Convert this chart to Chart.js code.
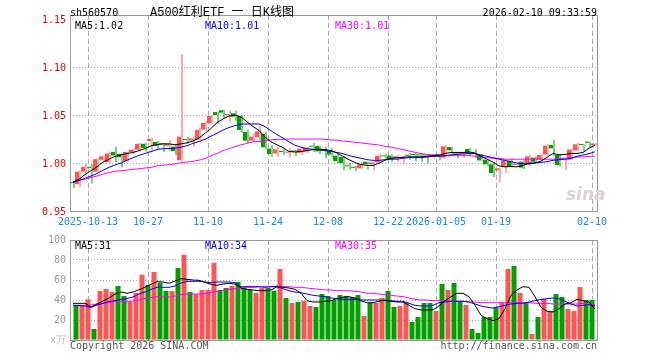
<!DOCTYPE html>
<html>
<head>
<meta charset="utf-8">
<title>A500红利ETF 日K线图</title>
<script src="https://cdn.jsdelivr.net/npm/chart.js@4.4.1/dist/chart.umd.min.js"></script>
<style>
  body { margin: 0; background: #fff; }
  #wrap { position: relative; width: 660px; height: 360px; overflow: hidden; font: 10px "DejaVu Sans Mono", monospace; }
  canvas { position: absolute; left: 0; }
  .txt { position: absolute; white-space: nowrap; line-height: 12px; z-index: 2; }
</style>
</head>
<body>
<div id="wrap">
  <canvas id="kline" width="660" height="230" style="top:0"></canvas>
  <canvas id="volume" width="660" height="130" style="top:230px"></canvas>

  <div class="txt" style="left:70px;top:7px">sh560570</div>
  <div class="txt" style="left:150px;top:6px;font-size:12px;line-height:14px;font-family:'Liberation Mono','Noto Sans CJK SC',monospace">A500红利ETF 一 日K线图</div>
  <div class="txt" style="right:63px;top:7px">2026-02-10 09:33:59</div>

  <div class="txt" id="k5" style="left:75px;top:20px;color:#000"></div>
  <div class="txt" id="k10" style="left:205px;top:20px;color:#0000ff"></div>
  <div class="txt" id="k30" style="left:335px;top:20px;color:#ff00ff"></div>

  <div class="txt" id="v5" style="left:75px;top:240px;color:#000"></div>
  <div class="txt" id="v10" style="left:205px;top:240px;color:#0000ff"></div>
  <div class="txt" id="v30" style="left:335px;top:240px;color:#ff00ff"></div>

  <div class="txt" style="left:566px;top:184px;font:italic bold 17px 'DejaVu Sans',sans-serif;line-height:20px;color:#ddd2d2">sina</div>

  <div class="txt" style="left:70px;top:340px;color:#555">Copyright 2026 SINA.COM</div>
  <div class="txt" style="right:63px;top:340px;color:#555">http://finance.sina.com.cn</div>
</div>

<script>
  // trading days shown on the chart
  const dates = [
    '2025-09-30','2025-10-09','2025-10-10','2025-10-13','2025-10-14','2025-10-15','2025-10-16','2025-10-17',
    '2025-10-20','2025-10-21','2025-10-22','2025-10-23','2025-10-24','2025-10-27','2025-10-28','2025-10-29',
    '2025-10-30','2025-10-31','2025-11-03','2025-11-04','2025-11-05','2025-11-06','2025-11-07','2025-11-10',
    '2025-11-11','2025-11-12','2025-11-13','2025-11-14','2025-11-17','2025-11-18','2025-11-19','2025-11-20',
    '2025-11-21','2025-11-24','2025-11-25','2025-11-26','2025-11-27','2025-11-28','2025-12-01','2025-12-02',
    '2025-12-03','2025-12-04','2025-12-05','2025-12-08','2025-12-09','2025-12-10','2025-12-11','2025-12-12',
    '2025-12-15','2025-12-16','2025-12-17','2025-12-18','2025-12-19','2025-12-22','2025-12-23','2025-12-24',
    '2025-12-25','2025-12-26','2025-12-29','2025-12-30','2025-12-31','2026-01-05','2026-01-06','2026-01-07',
    '2026-01-08','2026-01-09','2026-01-12','2026-01-13','2026-01-14','2026-01-15','2026-01-16','2026-01-19',
    '2026-01-20','2026-01-21','2026-01-22','2026-01-23','2026-01-26','2026-01-27','2026-01-28','2026-01-29',
    '2026-01-30','2026-02-02','2026-02-03','2026-02-04','2026-02-05','2026-02-06','2026-02-09','2026-02-10'
  ];

  const tickDates = ['2025-10-13','2025-10-27','2025-11-10','2025-11-24','2025-12-08','2025-12-22','2026-01-05','2026-01-19','2026-02-10'];
  const tickTexts = ['2025-10-13','10-27','11-10','11-24','12-08','12-22','2026-01-05','01-19','02-10'];
  const priceTicks = [0.95, 1.00, 1.05, 1.10, 1.15];
  const volTicks = [0, 20, 40, 60, 80, 100];

  const open = [
    0.981,0.979,0.992,0.997,0.992,1.0045,1.002,1.0125,1.0104,1.003,
    1.0125,1.015,1.021,1.024,1.023,1.021,1.019,1.018,1.004,1.0255,
    1.0245,1.0255,1.036,1.0427,1.054,1.056,1.051,1.0528,1.050,1.0333,
    1.0243,1.028,1.0313,1.016,1.011,1.013,1.0118,1.0135,1.0118,1.0132,
    1.0185,1.0188,1.014,1.0139,1.0087,1.0073,0.998,0.9965,0.9955,1.0024,
    0.9997,1.0017,1.008,1.0087,1.006,1.0062,1.0088,1.0096,1.0095,1.0092,
    1.0078,1.0096,1.0066,1.0177,1.0105,1.0105,1.0156,1.0108,1.0094,1.0045,
    0.9997,0.9934,0.9976,1.0031,0.999,1.0024,0.999,1.0066,1.0045,1.010,
    1.0198,1.0094,1.004,1.0045,1.0142,1.020,1.0233,1.0198
  ];
  const high = [
    0.982,0.993,1.000,1.000,1.006,1.009,1.013,1.018,1.011,1.013,
    1.016,1.022,1.022,1.027,1.024,1.0215,1.025,1.021,1.114,1.028,
    1.029,1.038,1.0444,1.051,1.0548,1.0565,1.056,1.0555,1.0507,1.036,
    1.032,1.0396,1.0333,1.0194,1.0174,1.0153,1.0167,1.0146,1.0174,1.018,
    1.022,1.019,1.018,1.0167,1.0104,1.008,1.001,0.998,1.0024,1.0024,
    1.0024,1.011,1.0108,1.010,1.0094,1.008,1.0115,1.0115,1.011,1.0094,
    1.0094,1.010,1.0198,1.0177,1.0128,1.0128,1.0163,1.0156,1.0104,1.0045,
    1.002,0.9958,1.0045,1.0052,1.0024,1.0038,1.0094,1.008,1.0108,1.0205,
    1.0253,1.0108,1.0055,1.0156,1.022,1.0205,1.0233,1.022
  ];
  const low = [
    0.975,0.976,0.988,0.980,0.991,1.003,1.001,1.002,0.9965,1.002,
    1.011,1.013,1.013,1.013,1.0156,1.0125,1.0135,1.009,1.003,1.021,
    1.018,1.025,1.035,1.042,1.0417,1.048,1.0437,1.045,1.0326,1.0215,
    1.023,1.022,1.0153,1.0076,1.007,1.0097,1.007,1.0083,1.0097,1.0118,
    1.0125,1.0104,1.006,1.0076,1.001,0.9934,0.994,0.9927,0.995,0.994,
    0.9934,1.001,1.005,1.0024,1.0024,1.001,1.0045,1.003,1.0024,1.001,
    1.0066,1.0038,1.006,1.010,1.006,1.0066,1.008,1.006,1.003,0.998,
    0.9865,0.981,0.990,0.9962,0.998,0.9948,0.998,1.001,1.003,1.0087,
    1.008,0.9976,0.994,1.0038,1.0135,1.0128,1.0177,1.0191
  ];
  const close = [
    0.980,0.992,0.997,0.996,1.005,1.008,1.011,1.009,1.007,1.0125,
    1.015,1.021,1.0167,1.026,1.019,1.0205,1.021,1.0135,1.0285,1.025,
    1.0265,1.0355,1.0427,1.050,1.051,1.0535,1.0515,1.0493,1.0354,1.0243,
    1.0285,1.034,1.0174,1.0104,1.0153,1.0125,1.0125,1.013,1.016,1.0167,
    1.018,1.0132,1.0135,1.0097,1.0031,1.001,0.9976,0.996,0.9997,0.9997,
    1.0017,1.0087,1.0079,1.0052,1.008,1.0066,1.0087,1.0094,1.009,1.009,
    1.0082,1.0094,1.0184,1.0142,1.010,1.0108,1.0108,1.0104,1.0038,0.9997,
    0.9906,0.9955,1.0038,0.9976,1.0003,0.9962,1.008,1.0024,1.0094,1.019,
    1.0163,0.999,1.0052,1.015,1.0205,1.0198,1.022,1.0212
  ];

  const ma5 = [
    0.981,0.984,0.989,0.993,0.997,1.002,1.005,1.008,1.0095,1.011,
    1.012,1.014,1.016,1.019,1.020,1.021,1.021,1.020,1.021,1.022,
    1.024,1.027,1.032,1.037,1.043,1.047,1.050,1.051,1.049,1.044,
    1.039,1.035,1.028,1.023,1.020,1.017,1.013,1.0125,1.013,1.014,
    1.015,1.0155,1.015,1.014,1.0115,1.008,1.0045,1.0015,0.9995,0.9985,
    0.9985,1.001,1.004,1.006,1.0065,1.007,1.0075,1.0075,1.0075,1.008,
    1.009,1.009,1.011,1.012,1.012,1.012,1.0125,1.0115,1.008,1.005,
    1.002,0.998,0.997,0.9975,0.997,0.9985,1.001,1.001,1.003,1.007,
    1.011,1.0095,1.010,1.011,1.011,1.012,1.0165,1.0195
  ];
  const ma10 = [
    0.981,0.983,0.985,0.9875,0.990,0.9935,0.9965,0.999,1.001,1.004,
    1.0065,1.009,1.011,1.013,1.015,1.016,1.016,1.0165,1.0175,1.019,
    1.0215,1.0235,1.0257,1.029,1.032,1.0354,1.038,1.040,1.0415,1.0417,
    1.0417,1.0417,1.039,1.0347,1.0306,1.027,1.023,1.0195,1.0175,1.016,
    1.0153,1.0146,1.0139,1.0132,1.012,1.0108,1.0087,1.0073,1.006,1.0045,
    1.0038,1.0038,1.0045,1.005,1.005,1.006,1.0066,1.0066,1.0066,1.0073,
    1.008,1.008,1.0087,1.0095,1.010,1.0105,1.0108,1.0108,1.0094,1.008,
    1.0066,1.005,1.0038,1.0024,1.001,1.0003,1.0003,1.001,1.0017,1.0024,
    1.0038,1.0045,1.005,1.006,1.008,1.0094,1.0108,1.0128
  ];
  const ma30 = [
    0.981,0.983,0.984,0.986,0.9875,0.9895,0.991,0.9924,0.993,0.9937,
    0.9944,0.995,0.9958,0.9965,0.998,0.9986,0.9993,1.000,1.0014,1.002,
    1.0028,1.004,1.0056,1.0087,1.011,1.0139,1.016,1.018,1.020,1.0215,
    1.023,1.0236,1.0243,1.025,1.0257,1.0257,1.026,1.026,1.026,1.026,
    1.026,1.026,1.0257,1.025,1.0247,1.024,1.0233,1.0226,1.022,1.0212,
    1.0205,1.0198,1.0184,1.0177,1.0163,1.015,1.0135,1.0122,1.0108,1.010,
    1.0094,1.0094,1.0087,1.0087,1.0087,1.0087,1.0087,1.008,1.0075,1.0066,
    1.006,1.006,1.005,1.005,1.005,1.005,1.005,1.005,1.005,1.005,
    1.005,1.006,1.006,1.0066,1.0073,1.0073,1.008,1.008
  ];

  // volume, unit: 万手
  const volume = [
    34.7,34.7,40.7,11,49,51,48,54,44,38,
    47,65.3,55,68,57.3,49,49,72,85.3,48,
    45.7,50,50,77.3,50,52,54,58,52,50,
    47,52,52,49.3,71,42,37,38,39,34,
    33,46,44,40,45,44,43,45,24,37,
    37,42,49,33,34,38,18,23,37,37,
    29,56,50,57,38,35,11,7,23,23,
    33,38,71,74,47,38,6,23,41,29,
    46,43,31,29,53,40,40,1
  ];
  const volMa5 = [
    36.7,36.7,36.7,33,36,39,42,46,48,46.7,
    48,50.3,52.7,55.7,58.3,58,56.7,59,61.3,60.7,
    60,59.7,57.7,55.7,54.7,56,56.7,56,52,50.7,
    50,49.3,49.3,50,53.3,52.7,52,50.7,46.7,39.3,
    38,38,38.7,39.3,41.3,42.7,43.3,42,39.3,37.3,
    37.3,38.7,40,38.7,38,38,34.7,31.3,30,30,
    30,34,39.3,43.3,46.7,46.7,43.3,34.7,24.7,21.3,
    19.3,21.3,31.3,44.7,50,53.3,52.7,43.3,32.7,28.7,
    28,31.3,36,37.3,40.7,39.3,38,31
  ];
  const volMa10 = [
    34.7,34.5,34,32.7,35,36.7,38.5,39.3,40.7,41.5,
    43,46,48,50.5,52.7,52.7,52.7,54,57,58.7,
    58.7,58.7,58,57.3,58,58,58,57.3,53.3,53.3,
    53.3,53.3,52.7,53.3,53.3,51.3,49.3,48,47.3,46,
    44.7,44,43.3,42,41.3,40.7,40.7,40.7,40,40,
    40,40,39.3,39.3,38.7,38.7,36.7,34.7,34,34,
    34.7,37.3,38,38.7,38.7,38.7,38,36,34,32.7,
    32,33.3,34.7,36,36.7,36.7,38,39.3,40.7,41.3,
    42,41.3,38.7,36,34,34.7,35.3,34
  ];
  const volMa30 = [
    34.7,34.7,34.7,35,36,36.7,37.5,38.3,38.3,38.3,
    39,40,41.7,42.5,43.3,43,43,44,45.5,46,
    46,46,46.5,47.5,48.7,49.3,50.7,51.3,52,52.7,
    52.7,53.3,53.3,53.3,54,53.3,53.3,52.7,52.7,52,
    51.3,50.7,50,50,49.3,49.3,49.3,48.7,48,46.7,
    46.7,46,45.3,44.7,44,43.3,42,40.7,40,40,
    39.3,39.3,39.3,38.7,38.7,38.7,38,38,37.3,37.3,
    37.3,37.3,37.3,37.3,37.3,37.3,37.3,36.7,36.7,36.7,
    36,36,36,36,36,36.7,36,35.3
  ];

  const RED = '#ff5555';
  const GREEN = '#00a000';
  const GRID = '#aaaaaa';
  const CLEAR = 'rgba(0,0,0,0)';
  const MONO = { family: 'DejaVu Sans Mono', size: 10 };

  const last = (a) => a[a.length - 1];
  document.getElementById('k5').textContent = 'MA5:' + last(ma5).toFixed(2);
  document.getElementById('k10').textContent = 'MA10:' + last(ma10).toFixed(2);
  document.getElementById('k30').textContent = 'MA30:' + last(ma30).toFixed(2);
  document.getElementById('v5').textContent = 'MA5:' + Math.round(last(volMa5));
  document.getElementById('v10').textContent = 'MA10:' + Math.round(last(volMa10));
  document.getElementById('v30').textContent = 'MA30:' + Math.round(last(volMa30));

  const barColor = close.map((c, i) => (c >= open[i] ? RED : GREEN));
  const tickIdx = tickDates.map((d) => dates.indexOf(d));
  const n = dates.length;

  // grey box round the plot area
  const frame = {
    id: 'frame',
    beforeDatasetsDraw(chart, args, opts) {
      const { ctx, chartArea: a } = chart;
      ctx.save();
      ctx.strokeStyle = '#999';
      ctx.lineWidth = 1;
      ctx.strokeRect(a.left + 0.5, a.top + 0.5, a.right - a.left - 1, a.bottom - a.top + opts.b);
      ctx.restore();
    }
  };

  const maLine = (data, color) => ({
    type: 'line', data, borderColor: color, borderWidth: 1,
    pointRadius: 0, tension: 0, order: 0, xAxisID: 'x'
  });

  const xGrid = {
    offset: true,
    grid: { offset: true, drawTicks: false, color: (ctx) => (tickIdx.includes(ctx.index) ? GRID : CLEAR) },
    border: { display: false, dash: [5, 3] }
  };

  // pixel-shifted index axis so 1px wicks and 5px volume bars land on whole pixels
  const shiftedAxis = { type: 'linear', display: false, offset: false, min: -0.5 - 1 / 12, max: n - 0.5 - 1 / 12 };

  Chart.defaults.font = MONO;

  new Chart(document.getElementById('kline'), {
    type: 'bar',
    data: {
      labels: dates,
      datasets: [
        maLine(ma5, '#000000'),
        maLine(ma10, '#0000ff'),
        maLine(ma30, '#ff00ff'),
        {
          data: open.map((o, i) => [o, close[i]]),
          backgroundColor: barColor, barThickness: 4, minBarLength: 1,
          inflateAmount: 0, order: 1, xAxisID: 'x'
        },
        {
          data: low.map((l, i) => ({ x: i, y: [l, high[i]] })),
          backgroundColor: barColor, barThickness: 1,
          inflateAmount: 0, order: 2, xAxisID: 'xw'
        }
      ]
    },
    options: {
      responsive: false,
      animation: false,
      devicePixelRatio: 1,
      layout: { padding: { top: 15, right: 62, bottom: 0, left: 0 } },
      plugins: { legend: { display: false }, tooltip: { enabled: false }, frame: { b: -1 } },
      scales: {
        x: {
          ...xGrid,
          afterFit: (s) => { s.height = 18; },
          ticks: {
            autoSkip: false, maxRotation: 0, padding: 4, labelOffset: -3,
            color: '#1a8ad4', font: MONO,
            callback: (v, i) => {
              const k = tickIdx.indexOf(i);
              return k >= 0 ? tickTexts[k] : '';
            }
          }
        },
        xw: { ...shiftedAxis },
        y: {
          min: 0.95,
          max: 1.1552,
          afterFit: (s) => { s.width = 70; },
          afterBuildTicks: (s) => { s.ticks = priceTicks.map((v) => ({ value: v })); },
          ticks: { padding: 4, color: '#e60000', font: MONO, callback: (v) => Number(v).toFixed(2) },
          grid: {
            drawTicks: false,
            color: (ctx) => (ctx.tick && ctx.tick.value > 0.96 && ctx.tick.value < 1.14 ? GRID : CLEAR)
          },
          border: { display: false, dash: [1, 2] }
        }
      }
    },
    plugins: [frame]
  });

  new Chart(document.getElementById('volume'), {
    type: 'bar',
    data: {
      labels: dates,
      datasets: [
        maLine(volMa5, '#000000'),
        maLine(volMa10, '#0000ff'),
        maLine(volMa30, '#ff00ff'),
        {
          data: volume.map((v, i) => ({ x: i, y: v })),
          backgroundColor: barColor, barThickness: 5,
          inflateAmount: 0, order: 1, xAxisID: 'xv'
        }
      ]
    },
    options: {
      responsive: false,
      animation: false,
      devicePixelRatio: 1,
      layout: { padding: { top: 10, right: 62, bottom: 20, left: 0 } },
      plugins: { legend: { display: false }, tooltip: { enabled: false }, frame: { b: 0 } },
      scales: {
        x: {
          ...xGrid,
          ticks: { display: false },
          afterFit: (s) => { s.height = 0; }
        },
        xv: { ...shiftedAxis },
        y: {
          min: 0,
          max: 100,
          afterFit: (s) => { s.width = 70; },
          afterBuildTicks: (s) => { s.ticks = volTicks.map((v) => ({ value: v })); },
          ticks: {
            padding: 4, font: MONO,
            color: (ctx) => (ctx.tick && ctx.tick.value === 0 ? '#bbbbbb' : '#999999'),
            callback: (v) => (v === 0 ? 'x万' : String(v))
          },
          grid: {
            drawTicks: false,
            color: (ctx) => (ctx.tick && ctx.tick.value > 0 && ctx.tick.value < 100 ? GRID : CLEAR)
          },
          border: { display: false, dash: [1, 2] }
        }
      }
    },
    plugins: [frame]
  });
</script>
</body>
</html>
